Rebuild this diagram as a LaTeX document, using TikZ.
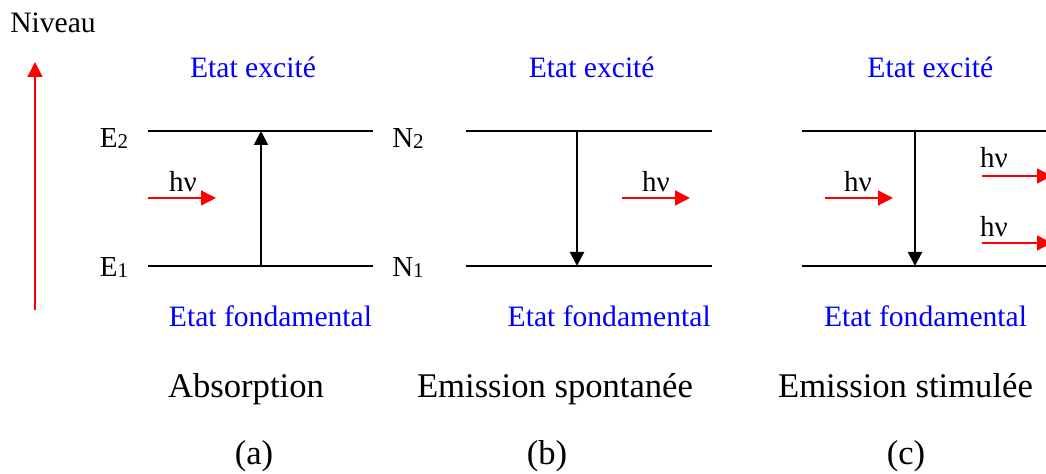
\documentclass[tikz,border=0pt]{standalone}
\usepackage{fontspec}
\setmainfont{Liberation Serif}
\usetikzlibrary{arrows.meta,positioning}

\newcommand{\lev}[2]{#1\raisebox{-0.5pt}{\fontsize{10.5}{12}\selectfont #2}}

\begin{document}
\begin{tikzpicture}[x=0.5pt, y=-0.5pt,
    level/.style={line width=1pt},
    trans/.style={line width=1pt, -{Triangle[length=7pt,width=7pt]}},
    photon/.style={red, line width=1pt, -{Triangle[length=7.5pt,width=7.4pt]}},
    lbl/.style={inner sep=0, anchor=base, font=\fontsize{14.5}{17}\selectfont},
    state/.style={inner sep=0, anchor=base, text=blue, font=\fontsize{14.8}{17}\selectfont},
    title/.style={inner sep=0, anchor=base, font=\fontsize{17.3}{20}\selectfont}
]
    \clip (0,0) rectangle (1046,474);

    % energy axis
    \node[lbl, font=\fontsize{14.8}{17}\selectfont] (niveau) at (53,33) {Niveau};
    \coordinate (axbot) at (35,310);
    \coordinate (axtop) at (35,62);
    \draw[photon] (axbot) -- (axtop);

    % (a) absorption
    \draw[level] (148,131) -- (373,131);
    \draw[level] (148,266) -- (373,266);
    \node[lbl] (e2) at (114,148) {\lev{E}{2}};
    \node[lbl] (e1) at (114,277) {\lev{E}{1}};
    \coordinate (a1) at (261,266);
    \coordinate (a2) at (261,131);
    \draw[trans] (a1) -- (a2);
    \node[lbl] (hva) at (183,192) {hν};
    \coordinate (pa0) at (148,198);
    \coordinate (pa1) at (216,198);
    \draw[photon] (pa0) -- (pa1);
    \node[state] (exca) at (253,78) {Etat excité};
    \node[state] (funda) at (270.5,327) {Etat fondamental};
    \node[title] (absa) at (246,398) {Absorption};
    \node[title] (laba) at (254,465) {(a)};

    % (b) emission spontanee
    \draw[level] (466,131) -- (712,131);
    \draw[level] (466,266) -- (712,266);
    \node[lbl] (n2) at (408,148) {\lev{N}{2}};
    \node[lbl] (n1) at (408,277) {\lev{N}{1}};
    \coordinate (b2) at (577,131);
    \coordinate (b1) at (577,266);
    \draw[trans] (b2) -- (b1);
    \node[lbl] (hvb) at (656,192) {hν};
    \coordinate (pb0) at (622,198);
    \coordinate (pb1) at (690,198);
    \draw[photon] (pb0) -- (pb1);
    \node[state] (excb) at (591.7,78) {Etat excité};
    \node[state] (fundb) at (609.2,327) {Etat fondamental};
    \node[title] (emsb) at (555,398) {Emission spontanée};
    \node[title] (labb) at (547,465) {(b)};

    % (c) emission stimulee
    \draw[level] (802,131) -- (1046,131);
    \draw[level] (802,266) -- (1046,266);
    \coordinate (c2) at (915,131);
    \coordinate (c1) at (915,266);
    \draw[trans] (c2) -- (c1);
    \node[lbl] (hvc) at (858,192) {hν};
    \coordinate (pc0) at (825,198);
    \coordinate (pc1) at (893,198);
    \draw[photon] (pc0) -- (pc1);
    \node[lbl] (hvd) at (994,168) {hν};
    \coordinate (pd0) at (982,176);
    \coordinate (pd1) at (1052,176);
    \draw[photon] (pd0) -- (pd1);
    \node[lbl] (hve) at (994,237) {hν};
    \coordinate (pe0) at (982,243);
    \coordinate (pe1) at (1052,243);
    \draw[photon] (pe0) -- (pe1);
    \node[state] (excc) at (930.3,78) {Etat excité};
    \node[state] (fundc) at (925.5,327) {Etat fondamental};
    \node[title] (emsc) at (905.5,398) {Emission stimulée};
    \node[title] (labc) at (906,465) {(c)};
\end{tikzpicture}
\end{document}
